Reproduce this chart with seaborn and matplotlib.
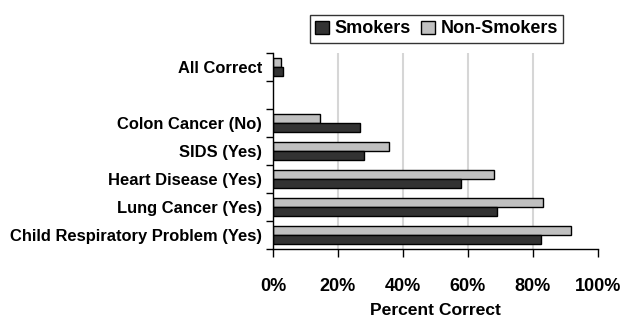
import matplotlib
matplotlib.use("Agg")
import matplotlib.pyplot as plt
from matplotlib.patches import Patch
from matplotlib.ticker import FixedLocator, PercentFormatter
import numpy as np
import pandas as pd
import seaborn as sns

categories = ["All Correct", " ", "Colon Cancer (No)", "SIDS (Yes)",
              "Heart Disease (Yes)", "Lung Cancer (Yes)",
              "Child Respiratory Problem (Yes)"]
smokers = [3.1, np.nan, 26.9, 27.9, 58.0, 69.0, 82.6]
non_smokers = [2.4, np.nan, 14.4, 35.6, 68.0, 83.0, 91.6]
x_ticks = [0, 20, 40, 60, 80, 100]

sns.set_theme(style="white")
plt.rcParams["font.family"] = ["Liberation Sans", "DejaVu Sans"]
plt.rcParams["font.weight"] = "bold"
plt.rcParams["text.color"] = "black"
plt.rcParams["axes.labelcolor"] = "black"
plt.rcParams["xtick.color"] = "black"
plt.rcParams["ytick.color"] = "black"

df = pd.DataFrame({
    "question": categories * 2,
    "group": ["Smokers"] * len(categories) + ["Non-Smokers"] * len(categories),
    "pct": smokers + non_smokers,
})

colors = {"Smokers": "#333333", "Non-Smokers": "#c0c0c0"}

fig = plt.figure(figsize=(6.24, 3.24), dpi=100)
ax = fig.add_axes([0.4375, 0.2315, 0.5205, 0.6045])

sns.barplot(data=df, y="question", x="pct", hue="group",
            order=categories, hue_order=["Non-Smokers", "Smokers"],
            palette=colors, orient="h", width=0.62, ax=ax,
            edgecolor="black", linewidth=1.0, legend=False)

ax.set_xlim(0, 100)
ax.set_ylim(len(categories) - 0.5, -0.5)
ax.xaxis.set_major_locator(FixedLocator(x_ticks))
ax.xaxis.set_major_formatter(PercentFormatter(decimals=0))
ax.grid(axis="x", color="#d6d6d6", linewidth=1.5)
ax.set_axisbelow(True)
# no gridline along the right edge at 100%
ax.get_xgridlines()[-1].set_visible(False)

for s in ["top", "right"]:
    ax.spines[s].set_visible(False)
for s in ["left", "bottom"]:
    ax.spines[s].set_color("black")
    ax.spines[s].set_linewidth(1.0)

ax.tick_params(axis="x", which="major", bottom=True, length=6, width=1,
               color="black", labelcolor="black", labelsize=13, pad=15)
ax.tick_params(axis="y", which="major", left=False, length=0,
               labelcolor="black", labelsize=11.9, pad=8)
ax.yaxis.set_minor_locator(FixedLocator(np.arange(-0.5, len(categories), 1)))
ax.tick_params(axis="y", which="minor", left=True, length=5, width=1,
               color="black")

ax.set_ylabel("")
ax.set_xlabel("Percent Correct", fontsize=12.6, fontweight="bold",
              color="black", labelpad=6)
for lbl in ax.get_xticklabels() + ax.get_yticklabels():
    lbl.set_fontweight("bold")

handles = [Patch(facecolor=colors["Smokers"], edgecolor="black", label="Smokers"),
           Patch(facecolor=colors["Non-Smokers"], edgecolor="black", label="Non-Smokers")]
leg = fig.legend(handles=handles, loc="center", bbox_to_anchor=(0.6995, 0.9105),
                 ncol=2, frameon=True, fancybox=False, edgecolor="black",
                 prop={"weight": "bold", "size": 13}, handlelength=0.75,
                 handleheight=0.75, handletextpad=0.3, columnspacing=0.6,
                 borderpad=0.3, borderaxespad=0, labelcolor="black")
leg.get_frame().set_linewidth(1.0)

fig.savefig("out.png", dpi=100)
